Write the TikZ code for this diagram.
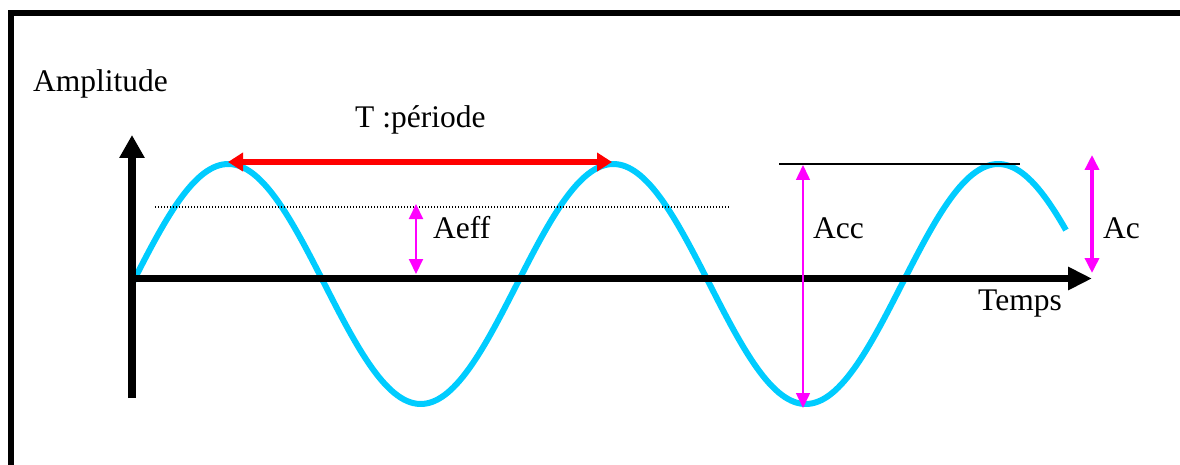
\documentclass[tikz,border=0pt]{standalone}
\usepackage{fontspec}
\setmainfont{Liberation Serif}
\usetikzlibrary{arrows.meta}
\definecolor{wave}{RGB}{0,204,255}
\definecolor{mag}{RGB}{255,0,255}
\tikzset{
  lbl/.style={anchor=base west, inner sep=0pt, font=\fontsize{31.5}{36}\selectfont},
  axis/.style={line width=#1, -{Triangle[length=23pt,width=24pt]}},
  magarrow/.style={mag, line width=#1, {Triangle[length=15pt,width=14pt]}-{Triangle[length=15pt,width=14pt]}},
}
\begin{document}
\begin{tikzpicture}[x=1pt,y=-1pt]
\useasboundingbox (0,0) rectangle (1180,465);
% frame
\draw[line width=6pt] (11,470) -- (11,13) -- (1190,13);
% coordinates
\coordinate (ybot) at (132,398);
\coordinate (ytop) at (132,135);
\coordinate (xl) at (128,278.5);
\coordinate (xr) at (1092,278.5);
% wave
\draw[wave, line width=6pt, line cap=butt, samples=300, domain=0:873.3, variable=\t] plot ({132+\t*1.069444},{284-120*sin(\t)});
% axes
\draw[axis=8pt] (ybot) -- (ytop);
\draw[line width=7pt, -{Triangle[length=24pt,width=22pt]}] (xl) -- (xr);
% period arrow
\coordinate (pl) at (228,162);
\coordinate (pr) at (612,162);
\draw[red, line width=6pt, {Triangle[length=15pt,width=18pt]}-{Triangle[length=15pt,width=18pt]}] (pl) -- (pr);
% dotted line
\coordinate (dl) at (155,207);
\coordinate (dr) at (730,207);
\draw[line width=1.2pt, dash pattern=on 1.2pt off 1.8pt] (dl) -- (dr);
% Acc top line
\coordinate (tl) at (779,164);
\coordinate (tr) at (1020,164);
\draw[line width=2pt] (tl) -- (tr);
% Aeff
\coordinate (aet) at (416,204);
\coordinate (aeb) at (416,274);
\draw[magarrow=2pt] (aet) -- (aeb);
% Acc
\coordinate (act) at (803,165);
\coordinate (acb) at (803,408);
\draw[magarrow=1.5pt] (act) -- (acb);
% Ac
\coordinate (at) at (1092,155);
\coordinate (ab) at (1092,273);
\draw[magarrow=3.5pt] (at) -- (ab);
% labels
\node[lbl] (amp) at (33,92) {Amplitude};
\node[lbl] (per) at (355,128) {T :période};
\node[lbl] (aeff) at (433,238) {Aeff};
\node[lbl] (acc) at (813,238) {Acc};
\node[lbl] (ac) at (1103,238) {Ac};
\node[lbl] (temps) at (978,310) {Temps};
\end{tikzpicture}
\end{document}
